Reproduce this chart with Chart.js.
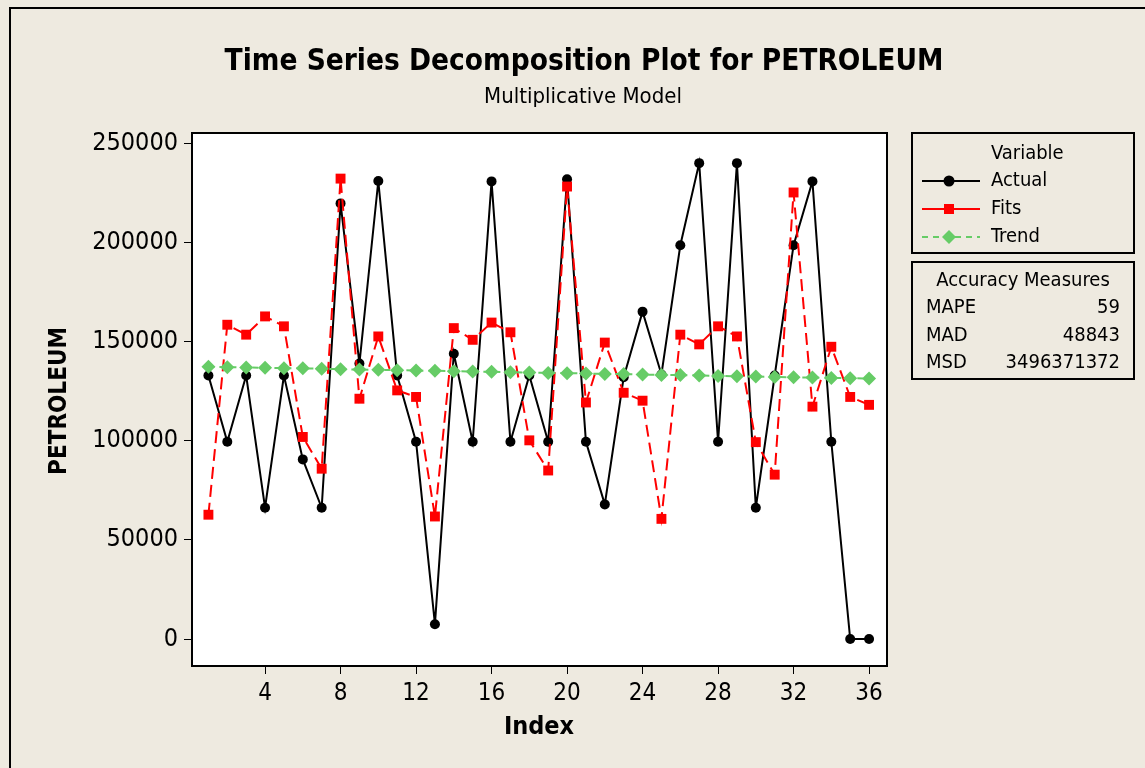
<!DOCTYPE html>
<html><head><meta charset="utf-8">
<script src="https://cdn.jsdelivr.net/npm/chart.js@4/dist/chart.umd.min.js"></script>
<style>html,body{margin:0;padding:0;background:#EEEAE0;overflow:hidden}#wrap{width:1145px;height:768px;position:relative}</style>
</head><body><div id="wrap"><canvas id="c" width="1145" height="768"></canvas></div>
<script>
const indexValues = [1,2,3,4,5,6,7,8,9,10,11,12,13,14,15,16,17,18,19,20,21,22,23,24,25,26,27,28,29,30,31,32,33,34,35,36];
const actual = [132900,99500,132900,66200,132900,90600,66200,219700,139000,231000,132900,99500,7500,143900,99500,230800,99500,132900,99500,231900,99500,67900,132000,165100,133400,198600,240000,99500,240000,66200,132900,198600,230800,99500,0,0];
const fits = [62700,158500,153500,162700,157700,101900,85900,232200,121200,152600,125400,122100,61800,156800,150900,159600,154700,100200,85000,228200,119300,149500,124200,120200,60600,153500,148600,157700,152600,99300,82900,225200,117200,147400,122100,118100];
const trend = [137300,137100,137000,136800,136600,136500,136300,136100,135900,135800,135600,135400,135300,135100,134900,134800,134600,134400,134200,134100,133900,133700,133600,133400,133200,133100,132900,132700,132500,132400,132200,132000,131900,131700,131500,131400];
const yTicks = [0,50000,100000,150000,200000,250000];
const xTicks = [4,8,12,16,20,24,28,32,36];
const seriesNames = ['Actual','Fits','Trend'];
const titleText = 'Time Series Decomposition Plot for PETROLEUM';
const subtitleText = 'Multiplicative Model';
const xTitle = 'Index';
const yTitle = 'PETROLEUM';
const legendTitle = 'Variable';
const accuracyTitle = 'Accuracy Measures';
const accuracyLabels = ['MAPE','MAD','MSD'];
const accuracyValues = ['59','48843','3496371372'];

const FONT = '"DejaVu Sans Condensed", "DejaVu Sans", sans-serif';
const BG = '#EEEAE0';
const GREEN = '#66CC66';
const RED = '#FF0000';

function pts(arr){ return arr.map((v,i)=>({x:indexValues[i], y:v})); }

const deco = {
  id:'deco',
  beforeDraw(chart){
    const ctx = chart.ctx, a = chart.chartArea;
    ctx.save();
    ctx.fillStyle = BG; ctx.fillRect(0,0,chart.width,chart.height);
    ctx.fillStyle = '#fff'; ctx.fillRect(a.left,a.top,a.right-a.left,a.bottom-a.top);
    ctx.restore();
  },
  afterDraw(chart){
    const ctx = chart.ctx, a = chart.chartArea;
    ctx.save();
    ctx.strokeStyle='#000'; ctx.lineWidth=2;
    ctx.beginPath(); ctx.moveTo(10,768); ctx.lineTo(10,8); ctx.lineTo(1145,8); ctx.stroke();
    ctx.lineWidth=2;
    ctx.strokeRect(a.left,a.top,a.right-a.left,a.bottom-a.top);
    ctx.fillStyle='#000';
    ctx.textAlign='center'; ctx.textBaseline='middle';
    ctx.font='bold 29.5px '+FONT; ctx.fillText(titleText,584,62);
    ctx.font='22px '+FONT; ctx.fillText(subtitleText,583,97);
    ctx.font='bold 25px '+FONT; ctx.fillText(xTitle,539,727);
    ctx.save(); ctx.translate(60,401); ctx.rotate(-Math.PI/2);
    ctx.font='bold 24px '+FONT; ctx.fillText(yTitle,0,0); ctx.restore();
    ctx.lineWidth=2; ctx.strokeStyle='#000';
    ctx.strokeRect(912,133,222,120);
    ctx.strokeRect(912,262,222,117);
    ctx.font='20px '+FONT; ctx.textAlign='left';
    ctx.fillText(legendTitle,991,154);
    const ys=[181,209,237];
    const cols=['#000',RED,GREEN];
    ys.forEach((y,i)=>{
      ctx.save();
      ctx.strokeStyle=cols[i]; ctx.fillStyle=cols[i]; ctx.lineWidth=2;
      if(i===2) ctx.setLineDash([6,5]);
      ctx.beginPath(); ctx.moveTo(922,y); ctx.lineTo(980,y); ctx.stroke();
      ctx.setLineDash([]);
      ctx.beginPath();
      if(i===0){ ctx.arc(949,y,5.5,0,Math.PI*2); }
      else if(i===1){ ctx.rect(944,y-5,10,10); }
      else { ctx.moveTo(949,y-7); ctx.lineTo(956,y); ctx.lineTo(949,y+7); ctx.lineTo(942,y); ctx.closePath(); }
      ctx.fill();
      ctx.restore();
      ctx.fillStyle='#000';
      ctx.fillText(seriesNames[i],991,y);
    });
    ctx.textAlign='center';
    ctx.fillText(accuracyTitle,1023,281);
    const ay=[308,336,363];
    ay.forEach((y,i)=>{
      ctx.textAlign='left'; ctx.fillText(accuracyLabels[i],926,y);
      ctx.textAlign='right'; ctx.fillText(accuracyValues[i],1120,y);
    });
    ctx.restore();
  }
};

new Chart(document.getElementById('c'),{
  type:'line',
  data:{datasets:[
    {label:seriesNames[0], data:pts(actual), borderColor:'#000', backgroundColor:'#000', borderWidth:2,
     pointStyle:'circle', pointRadius:5, pointBorderWidth:0, tension:0, order:2},
    {label:seriesNames[1], data:pts(fits), borderColor:RED, backgroundColor:RED, borderWidth:2, borderDash:[12,6],
     pointStyle:'rect', pointRadius:7, pointBorderWidth:0, tension:0, order:1},
    {label:seriesNames[2], data:pts(trend), borderColor:GREEN, backgroundColor:GREEN, borderWidth:2, borderDash:[6,5],
     pointStyle:'rectRot', pointRadius:7, pointBorderWidth:0, tension:0, order:0}
  ]},
  options:{
    responsive:false, animation:false, devicePixelRatio:1,
    layout:{padding:{left:0,top:133,right:258,bottom:0}},
    plugins:{legend:{display:false}, tooltip:{enabled:false}, title:{display:false}},
    scales:{
      x:{type:'linear', min:0.13, max:36.95,
        afterBuildTicks:s=>{s.ticks=xTicks.map(v=>({value:v}));},
        afterFit:s=>{s.height=102;},
        grid:{drawOnChartArea:false, drawTicks:true, tickLength:8, color:'#000', lineWidth:1},
        border:{display:true,color:'#000',width:2},
        ticks:{color:'#000', font:{family:FONT,size:24}, padding:5, maxRotation:0, autoSkip:false}},
      y:{type:'linear', min:-13600, max:255200,
        afterBuildTicks:s=>{s.ticks=yTicks.map(v=>({value:v}));},
        afterFit:s=>{s.width=192;},
        grid:{drawOnChartArea:false, drawTicks:true, tickLength:8, color:'#000', lineWidth:1},
        border:{display:true,color:'#000',width:2},
        ticks:{color:'#000', font:{family:FONT,size:25}, padding:6, callback:v=>String(v)}}
    }
  },
  plugins:[deco]
});
</script></body></html>
